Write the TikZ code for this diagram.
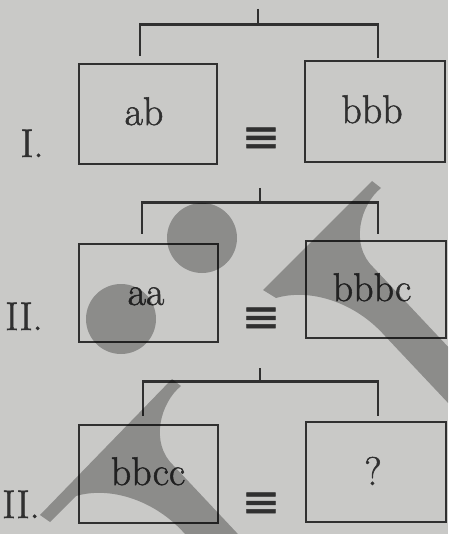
\documentclass[tikz,border=0pt]{standalone}
\usepackage{fontspec}
\newfontfamily\symf{DejaVu Sans}[FakeBold=1.2]
\newfontfamily\txtf{Latin Modern Roman}[FakeBold=1.3]
\definecolor{bg}{RGB}{201,201,199}
\definecolor{ink}{RGB}{48,48,48}
\tikzset{
  box/.style={draw=ink, line width=2.8pt, minimum width=139pt, minimum height=99pt, inner sep=0pt},
  ln/.style={draw=ink, line width=2.8pt},
  lbl/.style={text=ink, font=\txtf\fontsize{40}{44}\selectfont, anchor=base, inner sep=0pt},
  eqv/.style={text=ink, font=\symf\fontsize{46}{50}\selectfont, inner sep=0pt},
  wm/.style={fill=black, fill opacity=0.3}
}
\begin{document}
\begin{tikzpicture}[x=1pt,y=-1pt]
\useasboundingbox (0,0) rectangle (448,534);
\fill[bg] (0,0) rectangle (448,534);

% ---------- Panel I ----------
\node[box, minimum width=138pt, minimum height=100pt] (L1) at (148,114) {};
\node[box, minimum width=140pt, minimum height=101pt] (R1) at (375,111.5) {};
\coordinate (c1) at ([xshift=3pt,yshift=35pt]R1.north);
\coordinate (s1) at (258,9);
\draw[ln] ([xshift=-8pt,yshift=7pt]L1.north) |- (c1) -- ([xshift=3pt,yshift=1.5pt]R1.north);
\draw[ln] (s1) -- (s1 |- c1);
\node[lbl] (tL1) at (144,125) {ab};
\node[lbl] (tR1) at (372,123) {bbb};
\node[lbl] (n1) at (32,157) {I.};
\node[eqv] (e1) at (261,140) {≡};

% ---------- Panel II ----------
\node[box, minimum height=98pt] (L2) at (148.5,293) {};
\node[box, minimum width=140pt, minimum height=97pt] (R2) at (376,289.5) {};
\coordinate (c2) at ([xshift=2pt,yshift=37pt]R2.north);
\coordinate (s2) at (260,188);
\draw[ln] ([xshift=-6.5pt,yshift=9pt]L2.north) |- (c2) -- ([xshift=2pt,yshift=6pt]R2.north);
\draw[ln] (s2) -- (s2 |- c2);
\node[lbl] (tL2) at (146,305) {aa};
\node[lbl] (tR2) at (372,301) {bbbc};
\node[lbl] (n2) at (24,330) {II.};
\node[eqv] (e2) at (261,320) {≡};

% ---------- Panel III ----------
\node[box, minimum height=98pt] (L3) at (148.5,474) {};
\node[box, minimum width=140pt, minimum height=100pt] (R3) at (376,472) {};
\coordinate (c3) at ([xshift=2pt,yshift=39pt]R3.north);
\coordinate (s3) at (260,368);
\draw[ln] ([xshift=-5.5pt,yshift=8pt]L3.north) |- (c3) -- ([xshift=2pt,yshift=5pt]R3.north);
\draw[ln] (s3) -- (s3 |- c3);
\node[lbl] (tL3) at (148,485) {bbcc};
\node[lbl] (tR3) at (373,485) {?};
\node[lbl] (n3) at (21,518) {II.};
\node[eqv] (e3) at (261,505) {≡};

% ---------- watermark overlay ----------
\begin{scope}
\clip (0,0) rectangle (448,534);
\fill[wm] (202,238) circle[radius=35pt];
\fill[wm] (121,319) circle[radius=35pt];
\fill[wm] (263,290) -- (372,181) -- (381,188)
  .. controls (360,205) and (350,245) .. (373,267)
  -- (500,402) -- (500,458) -- (385,336)
  .. controls (355,302) and (310,288) .. (276,298) -- cycle;
\fill[wm] (40,515) -- (172,379) -- (181,386)
  .. controls (160,403) and (150,443) .. (173,465)
  -- (300,600) -- (300,656) -- (185,534)
  .. controls (155,500) and (110,486) .. (76,496) -- (50,522) -- cycle;
\end{scope}
\end{tikzpicture}
\end{document}
